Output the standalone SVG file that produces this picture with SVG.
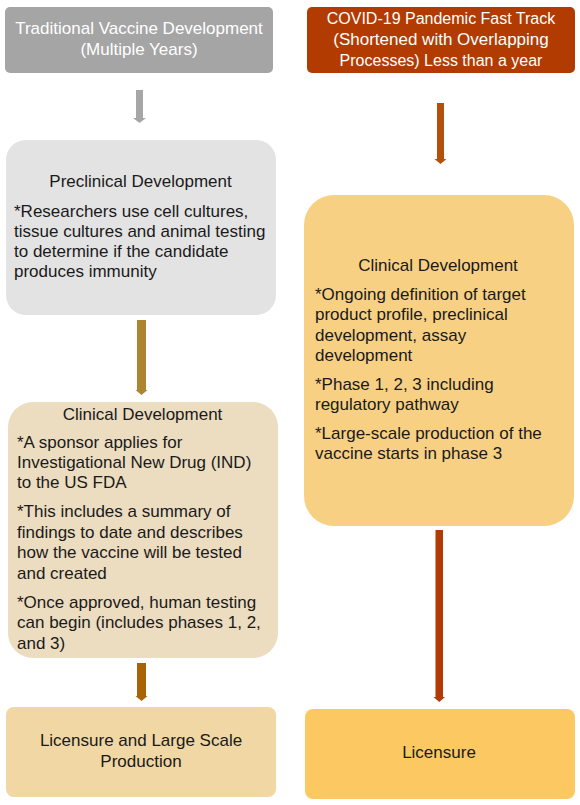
<svg xmlns="http://www.w3.org/2000/svg" width="580" height="805" viewBox="0 0 580 805">
<style>
text { font-family: "Liberation Sans", Arial, sans-serif; font-size: 17px; fill: #1a1a1a; }
.c { text-anchor: middle; }
.w { fill: #ffffff; }
.s { font-size: 16px; }
</style>
<rect width="580" height="805" fill="#ffffff"/>
<g id="connectors">
  <path d="M136,90 H143 V118 H146 L139.5,123 L133,118 H136 Z" fill="#a6a6a6"/>
  <path d="M437,103 H444 V159 H446.5 L440.5,164 L434.5,159 H437 Z" fill="#b5500b"/>
  <path d="M137,320 H146 V390 H147.5 L141.5,395 L135.5,390 H137 Z" fill="#ad8430"/>
  <path d="M137,663 H146 V696 H147.5 L141.5,701 L135.5,696 H137 Z" fill="#a86306"/>
  <path d="M435.5,530 H443 V697 H445 L439.3,702 L433.5,697 H435.5 Z" fill="#b33a04"/>
</g>
<g id="traditional-header">
  <rect x="5" y="7" width="268" height="66" rx="5" fill="#a5a5a5"/>
  <text class="c w" x="139" y="34">Traditional Vaccine Development</text>
  <text class="c w" x="139" y="55">(Multiple Years)</text>
</g>
<g id="covid-header">
  <rect x="307" y="7" width="268" height="66" rx="5" fill="#b23b02"/>
  <text class="c w s" x="441" y="24">COVID-19 Pandemic Fast Track</text>
  <text class="c w" x="441" y="45">(Shortened with Overlapping</text>
  <text class="c w s" x="441" y="66">Processes) Less than a year</text>
</g>
<g id="preclinical">
  <rect x="6" y="140" width="270" height="175" rx="20" fill="#e3e3e3"/>
  <text class="c" x="140.5" y="187">Preclinical Development</text>
  <text x="14" y="217">*Researchers use cell cultures,</text>
  <text x="14" y="237">tissue cultures and animal testing</text>
  <text x="14" y="257">to determine if the candidate</text>
  <text x="14" y="277">produces immunity</text>
</g>
<g id="clinical-traditional">
  <rect x="8" y="402" width="270" height="256" rx="25" fill="#ecdcc0"/>
  <text class="c" x="142.5" y="420">Clinical Development</text>
  <text x="17" y="448">*A sponsor applies for</text>
  <text x="17" y="468">Investigational New Drug (IND)</text>
  <text x="17" y="488">to the US FDA</text>
  <text x="17" y="517">*This includes a summary of</text>
  <text x="17" y="538">findings to date and describes</text>
  <text x="17" y="558">how the vaccine will be tested</text>
  <text x="17" y="579">and created</text>
  <text x="17" y="608">*Once approved, human testing</text>
  <text x="17" y="628">can begin (includes phases 1, 2,</text>
  <text x="17" y="649">and 3)</text>
</g>
<g id="licensure-production">
  <rect x="6" y="707" width="270" height="90" rx="8" fill="#f0d7a3"/>
  <text class="c" x="141" y="746">Licensure and Large Scale</text>
  <text class="c" x="141" y="767">Production</text>
</g>
<g id="clinical-covid">
  <rect x="304" y="195" width="270" height="331" rx="30" fill="#f7d084"/>
  <text class="c" x="438" y="271">Clinical Development</text>
  <text x="315" y="300">*Ongoing definition of target</text>
  <text x="315" y="320">product profile, preclinical</text>
  <text x="315" y="341">development, assay</text>
  <text x="315" y="361">development</text>
  <text x="315" y="390">*Phase 1, 2, 3 including</text>
  <text x="315" y="410">regulatory pathway</text>
  <text x="315" y="439">*Large-scale production of the</text>
  <text x="315" y="459">vaccine starts in phase 3</text>
</g>
<g id="licensure">
  <rect x="305" y="709" width="270" height="90" rx="8" fill="#fcc862"/>
  <text class="c" x="439" y="758">Licensure</text>
</g>
</svg>
